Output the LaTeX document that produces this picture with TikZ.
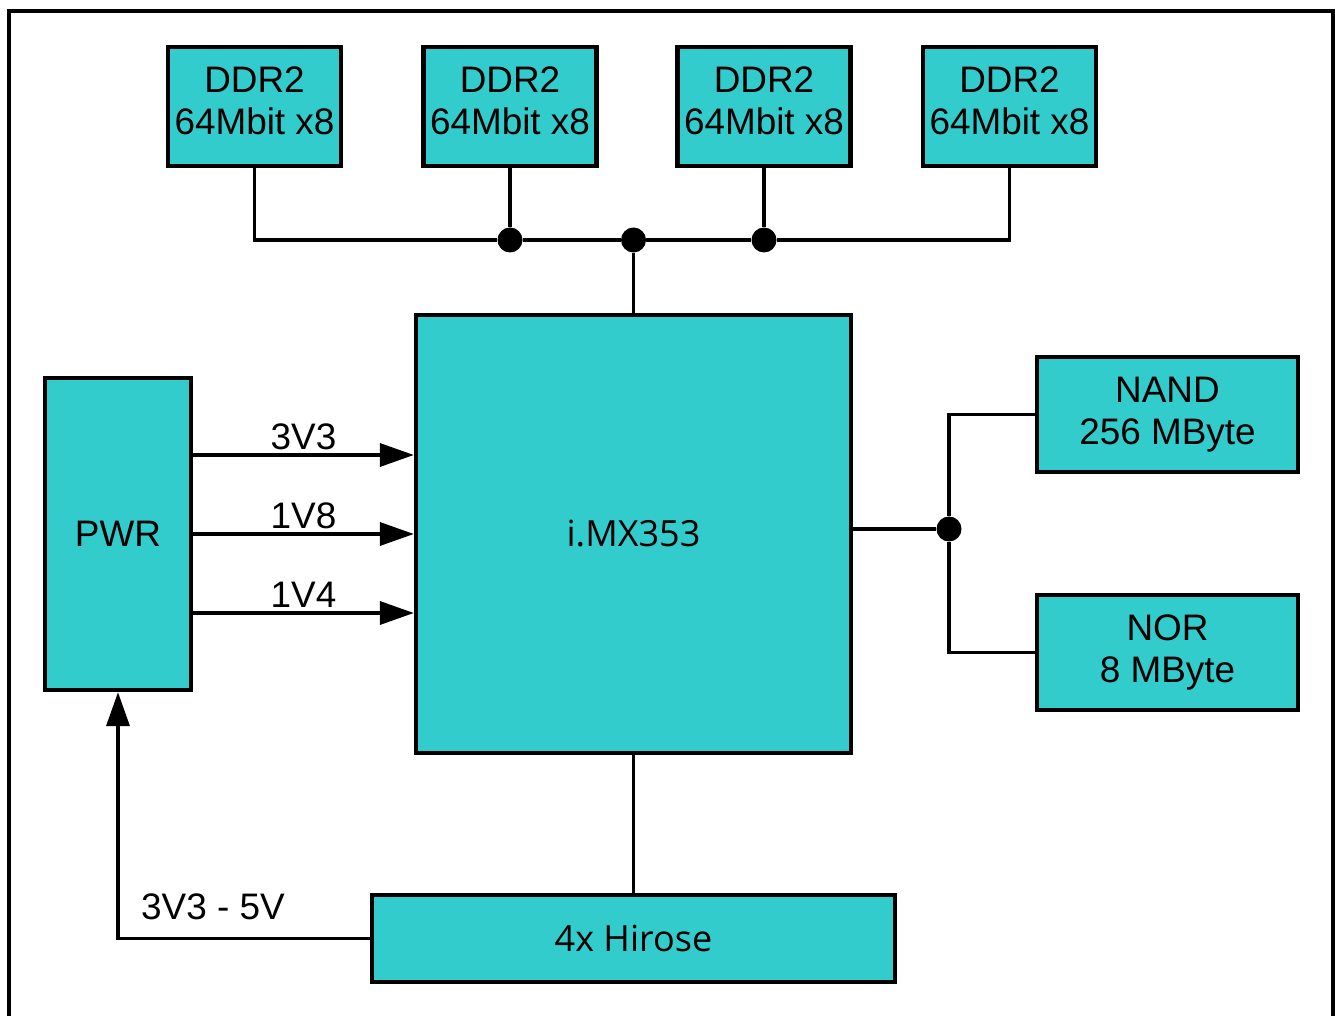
\documentclass[tikz,border=0pt]{standalone}
\usepackage{fontspec}
\setmainfont{Liberation Sans}
\newfontfamily\chipfont{Open Sans}
\usetikzlibrary{positioning, arrows.meta, calc}
\definecolor{chip}{HTML}{33CCCC}

\begin{document}
\begin{tikzpicture}[x=0.02cm, y=-0.02cm, font=\fontsize{21}{23.5}\selectfont,
  block/.style={rectangle, draw=black, line width=2.5pt, fill=chip, align=center, inner sep=0pt},
  ddr/.style={block, minimum width=3.46cm, minimum height=2.38cm, text depth=0.24cm},
  flash/.style={block, minimum width=5.22cm, minimum height=2.3cm},
  wire/.style={line width=2pt},
  arrow/.style={wire, -{Triangle[length=0.68cm, width=0.46cm]}},
  dot/.style={circle, fill=black, inner sep=0pt, minimum size=0.5cm}
]
  \useasboundingbox (0,0) rectangle (1335,1016);
  % outer frame, bottom edge is cut off
  \draw[line width=2.3pt] (9,1030) -- (9,11) -- (1333,11) -- (1333,1030);

  % memories on top
  \node[ddr] (d1) at (254.5,106.5) {DDR2\\64Mbit x8};
  \node[ddr] (d2) at (510,106.5) {DDR2\\64Mbit x8};
  \node[ddr] (d3) at (764,106.5) {DDR2\\64Mbit x8};
  \node[ddr] (d4) at (1009.5,106.5) {DDR2\\64Mbit x8};

  \node[block, minimum width=8.7cm, minimum height=8.76cm, font=\chipfont\fontsize{20.5}{23.5}\selectfont]
    (cpu) at (633.5,534) {i.MX353};
  \node[block, minimum width=2.92cm, minimum height=6.24cm] (pwr) at (118,534) {PWR};
  \node[flash] (nand) at (1167.5,414.5) {NAND\\256 MByte};
  \node[flash] (nor) at (1167.5,652.5) {NOR\\8 MByte};
  \node[block, minimum width=10.46cm, minimum height=1.74cm, font=\chipfont\fontsize{20.5}{23.5}\selectfont]
    (hirose) at (633.5,938.5) {4x Hirose};

  % junctions
  \node[dot] (j1) at (510,240) {};
  \node[dot] (j2) at (633.5,240) {};
  \node[dot] (j3) at (764,240) {};
  \node[dot] (j4) at (949,529) {};

  % memory bus
  \draw[wire] (d1.south) |- (j1) -- (j2) -- (j3) -| (d4.south);
  \draw[wire] (d2.south) -- (j1);
  \draw[wire] (d3.south) -- (j3);
  \draw[wire] (j2) -- (cpu.north);

  % flash
  \draw[wire] (cpu.east |- j4) -- (j4);
  \draw[wire] (j4) |- (nand.west);
  \draw[wire] (j4) |- (nor.west);

  % supplies
  \foreach \dy/\lbl in {-79/3V3, 0/1V8, 79/1V4} {
    \draw[arrow] ($(pwr.east)+(0,\dy)$) -- node[above, inner sep=2pt] {\lbl} ($(cpu.west)+(0,\dy)$);
  }
  \draw[wire] (cpu.south) -- (hirose.north);
  \draw[arrow] (hirose.west) -| (pwr.south);
  \node (vin) at (213,907) {3V3 - 5V};
\end{tikzpicture}
\end{document}
